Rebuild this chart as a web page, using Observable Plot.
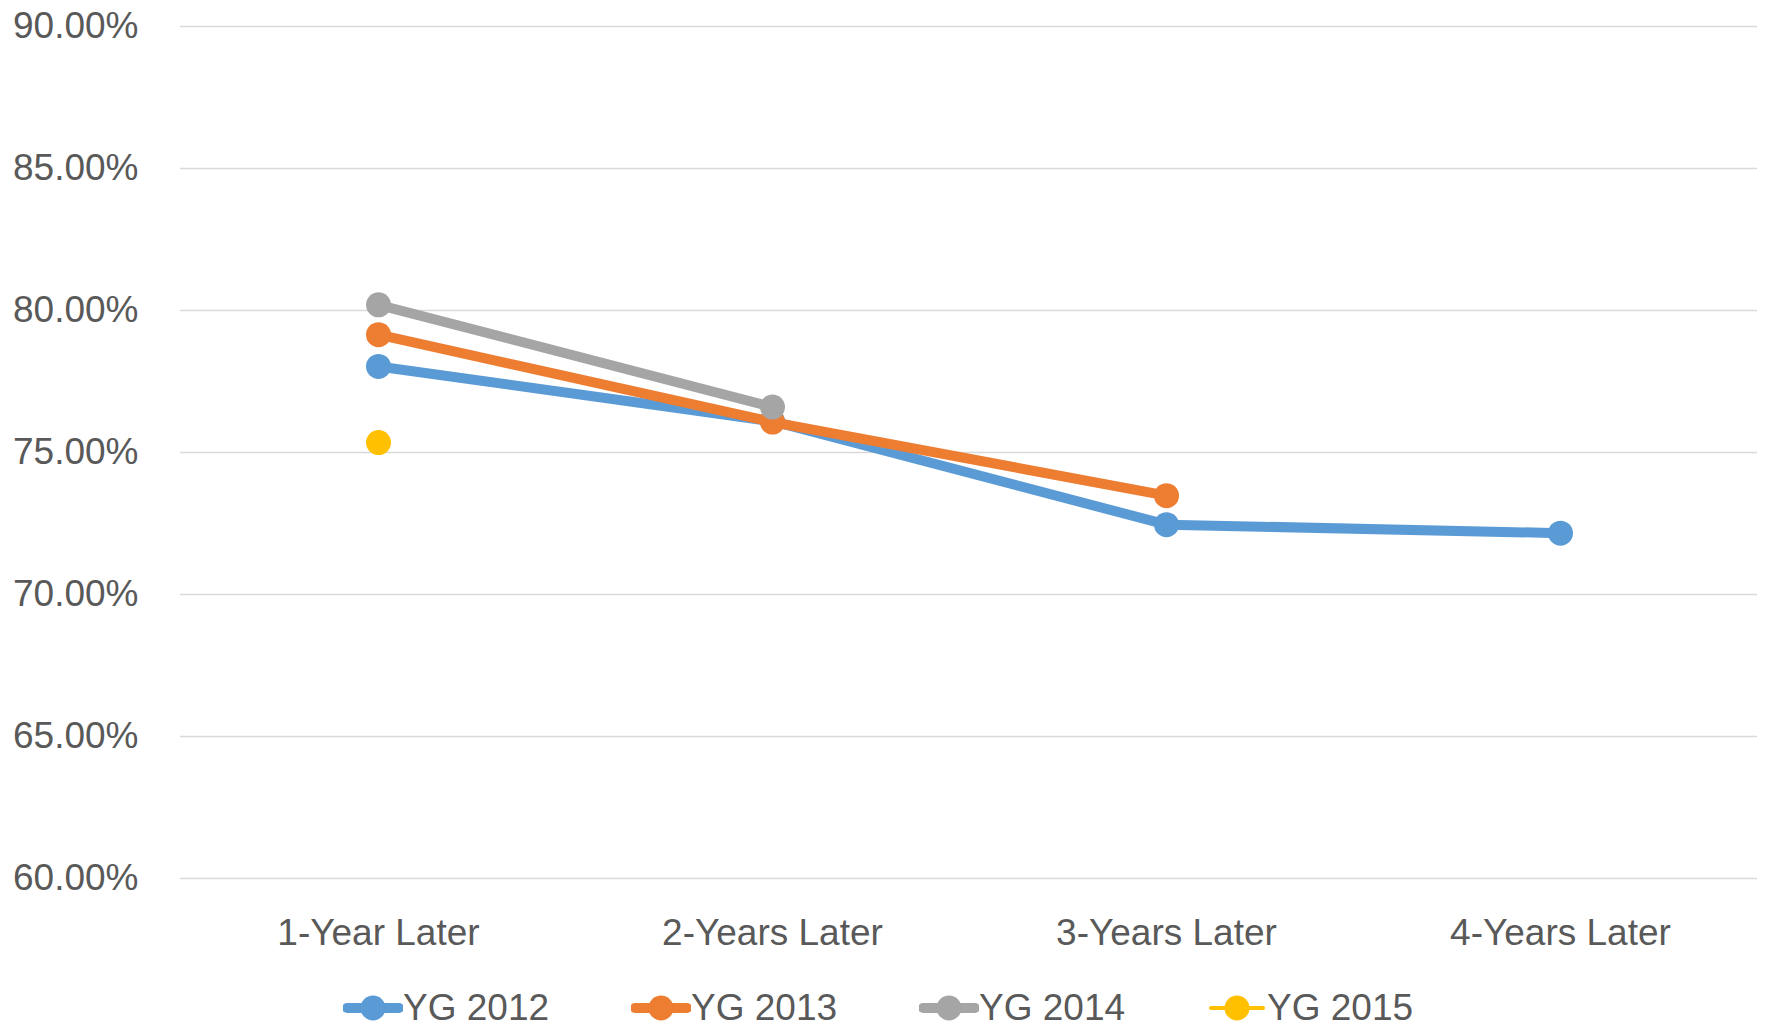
<!DOCTYPE html>
<html>
<head>
<meta charset="utf-8">
<script src="https://cdn.jsdelivr.net/npm/d3@7"></script>
<script src="https://cdn.jsdelivr.net/npm/@observablehq/plot@0.6"></script>
<style>
  html, body { margin: 0; padding: 0; background: #fff; }
  body { width: 1766px; height: 1025px; overflow: hidden; font-family: "Liberation Sans", Arial, sans-serif; }
  #legend { display: flex; padding-left: 343px; margin-top: 23px; height: 40px; align-items: center; }
  .item { width: 288px; display: flex; align-items: center; font-size: 37px; color: #595959; }
  .item svg { display: block; }
</style>
</head>
<body>
<div id="chart"></div>
<div id="legend"></div>
<script>
const categories = ["1-Year Later", "2-Years Later", "3-Years Later", "4-Years Later"];
const seriesNames = ["YG 2012", "YG 2013", "YG 2014", "YG 2015"];
const colors = ["#5B9BD5", "#ED7D31", "#A5A5A5", "#FFC000"];
const yg2012 = [78.03, 76.1, 72.46, 72.16];
const yg2013 = [79.15, 76.07, 73.48];
const yg2014 = [80.2, 76.6];
const yg2015 = [75.35];
const yTicks = [60, 65, 70, 75, 80, 85, 90];

const allSeries = [yg2012, yg2013, yg2014, yg2015];
const rows = [];
allSeries.forEach((vals, si) => vals.forEach((v, i) => rows.push({series: seriesNames[si], cat: categories[i], value: v})));

const marks = [
  Plot.gridY(yTicks, {stroke: "#d9d9d9", strokeOpacity: 1, strokeWidth: 1.6})
];
seriesNames.forEach((s, si) => {
  const d = rows.filter(r => r.series === s);
  if (d.length > 1) marks.push(Plot.line(d, {x: "cat", y: "value", stroke: colors[si], strokeWidth: 10, strokeLinecap: "round", strokeLinejoin: "round"}));
  marks.push(Plot.dot(d, {x: "cat", y: "value", r: 12.5, fill: colors[si], stroke: "none"}));
});
marks.push(Plot.axisY(yTicks, {tickSize: 0, tickPadding: 42, tickFormat: d => d.toFixed(2) + "%", fontSize: 37, fill: "#595959"}));
marks.push(Plot.axisX({tickSize: 0, tickPadding: 40, fontSize: 37, fill: "#595959"}));

const chart = Plot.plot({
  width: 1766,
  height: 965,
  marginTop: 26,
  marginBottom: 87,
  marginLeft: 180,
  marginRight: 9,
  style: {fontFamily: "Liberation Sans, Arial, sans-serif", background: "#fff"},
  x: {type: "point", domain: categories, padding: 0.5, label: null},
  y: {domain: [60, 90], label: null},
  marks
});
document.getElementById("chart").appendChild(chart);

const legend = document.getElementById("legend");
seriesNames.forEach((s, si) => {
  const item = document.createElement("div");
  item.className = "item";
  const sw = si === 3 ? 4 : 10;
  item.innerHTML = `<svg width="60" height="40"><line x1="4" x2="56" y1="20" y2="20" stroke="${colors[si]}" stroke-width="${sw}" stroke-linecap="round"/><circle cx="30" cy="20" r="12.5" fill="${colors[si]}"/></svg><span>${s}</span>`;
  legend.appendChild(item);
});
</script>
</body>
</html>
